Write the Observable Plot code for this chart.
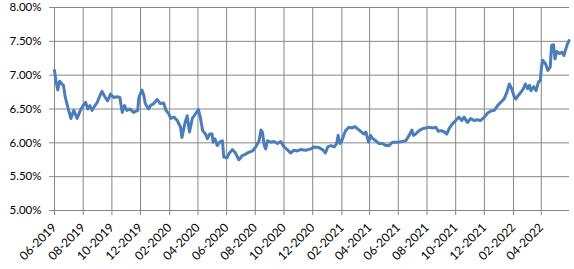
<!DOCTYPE html>
<html>
<head>
<meta charset="utf-8">
<script src="https://cdn.jsdelivr.net/npm/d3@7"></script>
<script src="https://cdn.jsdelivr.net/npm/@observablehq/plot@0.6"></script>
<style>
  html, body { margin: 0; padding: 0; background: #fff; }
  #chart svg { display: block; }
</style>
</head>
<body>
<div id="chart"></div>
<script>
const dates = [
  "2019-06-01","2019-06-04","2019-06-08","2019-06-12","2019-06-17","2019-06-20","2019-06-24",
  "2019-07-01","2019-07-06","2019-07-12","2019-07-15","2019-07-19","2019-07-26",
  "2019-08-01","2019-08-06","2019-08-11","2019-08-15","2019-08-20","2019-08-25","2019-08-31",
  "2019-09-07","2019-09-10","2019-09-17","2019-09-22","2019-09-28",
  "2019-10-05","2019-10-12","2019-10-18","2019-10-23","2019-10-28",
  "2019-11-02","2019-11-09","2019-11-16","2019-11-25","2019-11-27","2019-11-29",
  "2019-12-04","2019-12-08","2019-12-11","2019-12-18","2019-12-22","2019-12-29",
  "2020-01-05","2020-01-12","2020-01-19","2020-01-24","2020-01-30",
  "2020-02-03","2020-02-10","2020-02-17","2020-02-24","2020-02-27",
  "2020-03-04","2020-03-09","2020-03-14","2020-03-20","2020-03-27",
  "2020-04-02","2020-04-06","2020-04-11","2020-04-17","2020-04-21","2020-04-26",
  "2020-05-01","2020-05-03","2020-05-07","2020-05-12","2020-05-17","2020-05-23","2020-05-26",
  "2020-06-02","2020-06-06","2020-06-13","2020-06-19","2020-06-27",
  "2020-07-04","2020-07-11","2020-07-18","2020-07-26",
  "2020-08-02","2020-08-09","2020-08-13","2020-08-16","2020-08-20","2020-08-23","2020-08-27",
  "2020-09-03","2020-09-10","2020-09-17","2020-09-24",
  "2020-10-01","2020-10-08","2020-10-15","2020-10-22","2020-10-29",
  "2020-11-05","2020-11-16","2020-11-27",
  "2020-12-04","2020-12-14","2020-12-22","2020-12-28",
  "2021-01-02","2021-01-09","2021-01-16","2021-01-21","2021-01-24","2021-01-28",
  "2021-02-01","2021-02-06","2021-02-09","2021-02-16","2021-02-23",
  "2021-03-01","2021-03-06","2021-03-13","2021-03-20","2021-03-24","2021-03-30",
  "2021-04-03","2021-04-08","2021-04-14","2021-04-21","2021-04-28",
  "2021-05-05","2021-05-12","2021-05-20","2021-05-30",
  "2021-06-10","2021-06-17","2021-06-24","2021-06-30",
  "2021-07-03","2021-07-08","2021-07-15","2021-07-23","2021-07-30",
  "2021-08-06","2021-08-13","2021-08-20","2021-08-25","2021-08-31",
  "2021-09-07","2021-09-12","2021-09-17","2021-09-24",
  "2021-10-01","2021-10-08","2021-10-14","2021-10-19","2021-10-26",
  "2021-11-02","2021-11-09","2021-11-16","2021-11-23",
  "2021-12-01","2021-12-08","2021-12-15","2021-12-22","2021-12-29",
  "2022-01-05","2022-01-12","2022-01-18","2022-01-23","2022-01-28",
  "2022-02-03","2022-02-06","2022-02-11","2022-02-17","2022-02-22","2022-02-26",
  "2022-03-03","2022-03-07","2022-03-10","2022-03-16","2022-03-21","2022-03-26","2022-03-30",
  "2022-04-01","2022-04-04","2022-04-10","2022-04-15","2022-04-20","2022-04-23","2022-04-27","2022-04-30",
  "2022-05-04","2022-05-10","2022-05-15","2022-05-19","2022-05-22","2022-05-26","2022-05-30"
];
const rates = [
  7.07,6.92,6.78,6.91,6.87,6.85,6.67,
  6.48,6.36,6.48,6.43,6.36,6.48,
  6.55,6.60,6.50,6.55,6.48,6.54,6.60,
  6.72,6.76,6.67,6.62,6.72,
  6.67,6.68,6.67,6.45,6.55,
  6.48,6.50,6.45,6.48,6.65,6.70,
  6.78,6.70,6.58,6.50,6.55,6.58,
  6.64,6.58,6.59,6.48,6.43,
  6.36,6.38,6.33,6.23,6.08,
  6.28,6.40,6.16,6.36,6.43,
  6.49,6.38,6.18,6.13,6.06,6.13,
  6.13,6.01,6.06,5.96,6.01,6.03,5.79,
  5.78,5.84,5.90,5.86,5.75,
  5.81,5.83,5.86,5.88,
  5.94,6.03,6.19,6.16,5.96,5.91,6.03,
  6.01,6.02,5.99,6.02,
  5.94,5.90,5.85,5.89,5.88,
  5.90,5.89,5.91,
  5.94,5.93,5.90,5.85,
  5.94,5.96,5.94,5.99,6.11,5.99,
  6.03,6.13,6.18,6.23,6.22,
  6.24,6.21,6.17,6.13,6.16,6.01,
  6.11,6.06,6.03,5.99,5.99,
  5.96,5.96,6.01,6.01,
  6.02,6.03,6.11,6.19,
  6.11,6.13,6.18,6.21,6.22,
  6.23,6.22,6.23,6.17,6.18,
  6.16,6.13,6.21,6.28,
  6.33,6.38,6.33,6.38,6.30,
  6.36,6.33,6.34,6.33,
  6.38,6.44,6.47,6.48,6.55,
  6.60,6.65,6.75,6.87,6.80,
  6.67,6.65,6.70,6.75,6.80,6.87,
  6.80,6.85,6.77,6.83,6.77,6.90,6.92,
  7.09,7.22,7.17,7.07,7.12,7.44,7.45,7.24,
  7.35,7.32,7.34,7.29,7.36,7.45,7.51
];
const yTicks = [5.0, 5.5, 6.0, 6.5, 7.0, 7.5, 8.0];
const xTickLabels = ["06-2019","08-2019","10-2019","12-2019","02-2020","04-2020","06-2020","08-2020","10-2020","12-2020","02-2021","04-2021","06-2021","08-2021","10-2021","12-2021","02-2022","04-2022"];

const parse = d3.utcParse("%Y-%m-%d");
const parseTick = d3.utcParse("%m-%Y");
const data = dates.map((d, i) => ({date: parse(d), rate: rates[i]}));
const xTicks = xTickLabels.map(parseTick);
const xStart = parse("2019-06-01");
const xEnd = parse("2022-05-31");
const gridColor = "#868686";

const chart = Plot.plot({
  width: 574,
  height: 269,
  marginLeft: 54,
  marginRight: 5,
  marginTop: 7,
  marginBottom: 59,
  style: {fontFamily: "Lato, 'Liberation Sans', sans-serif", fontSize: "11.5px", color: "#000", background: "#fff"},
  x: {type: "utc", domain: [xStart, xEnd]},
  y: {domain: [5, 8]},
  marks: [
    Plot.gridY(yTicks, {stroke: gridColor, strokeOpacity: 1, strokeWidth: 1}),
    Plot.gridX(xTicks, {stroke: gridColor, strokeOpacity: 1, strokeWidth: 1}),
    Plot.axisY(yTicks, {tickSize: 5, tickPadding: 8, stroke: gridColor, tickFormat: d => d.toFixed(2) + "%", fill: "#000", label: null}),
    Plot.axisX(xTicks, {tickSize: 5, tickPadding: 10, stroke: gridColor, tickRotate: -45, fontSize: 12, tickFormat: d3.utcFormat("%m-%Y"), fill: "#000", label: null}),
    Plot.ruleY([5], {stroke: gridColor}),
    Plot.ruleX([xStart], {stroke: gridColor}),
    Plot.lineY(data, {x: "date", y: "rate", stroke: "#4a7ebb", strokeWidth: 3, strokeLinejoin: "round", strokeLinecap: "round"})
  ]
});
document.getElementById("chart").append(chart);
</script>
</body>
</html>
